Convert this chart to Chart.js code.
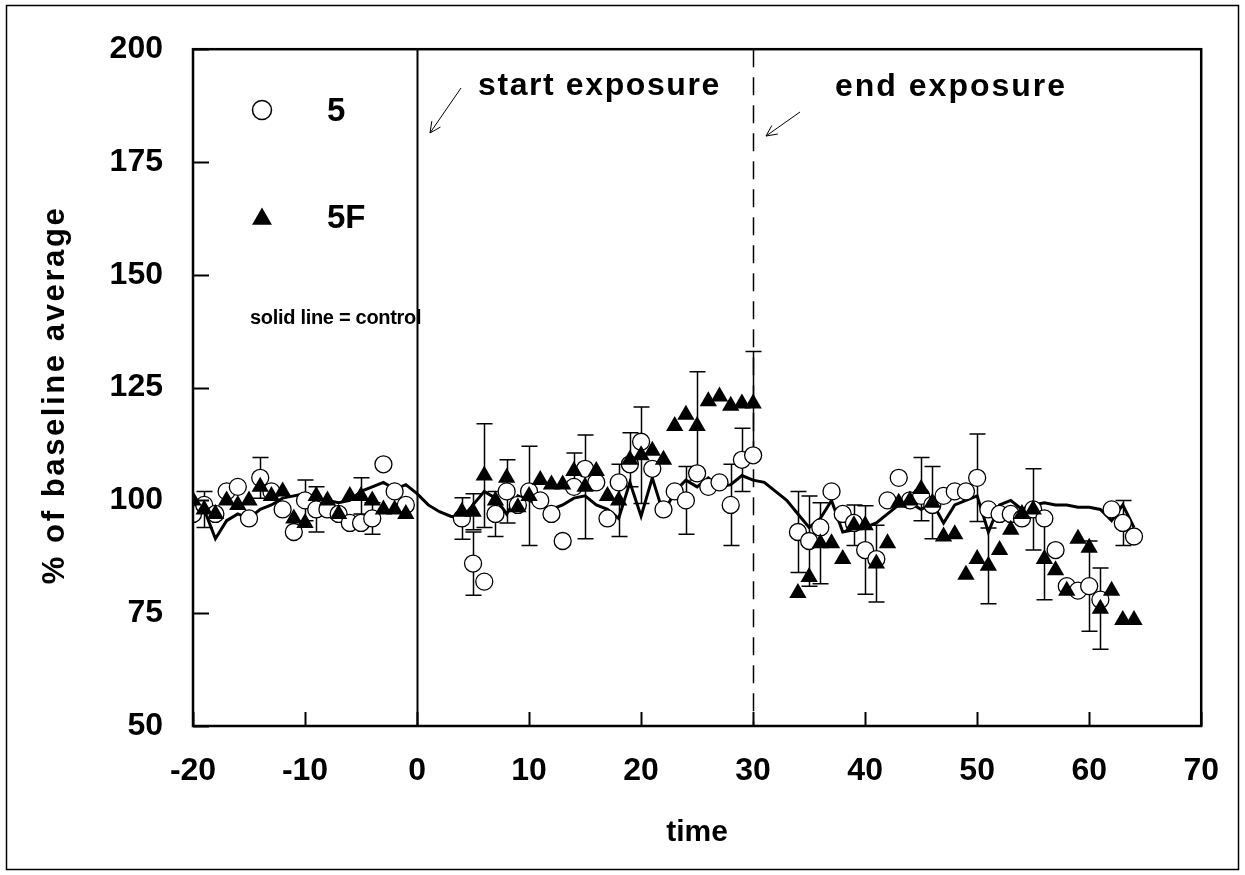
<!DOCTYPE html>
<html>
<head>
<meta charset="utf-8">
<script src="https://cdn.jsdelivr.net/npm/chart.js@4.4.0/dist/chart.umd.min.js"></script>
<style>
  html, body { margin: 0; padding: 0; background: #fff; }
  #wrap { width: 1245px; height: 875px; }
</style>
</head>
<body>
<div id="wrap"><canvas id="chart" width="1245" height="875"></canvas></div>
<script>
// time axis (min) for the two exposed groups: baseline, exposure, recovery
const times5 = [-20, -19, -18, -17, -16, -15, -14, -13, -12, -11, -10, -9, -8, -7, -6, -5, -4, -3, -2, -1,
    4, 5, 6, 7, 8, 9, 10, 11, 12, 13, 14, 15, 16, 17, 18, 19, 20, 21, 22, 23, 24, 25, 26, 27, 28, 29, 30,
    34, 35, 36, 37, 38, 39, 40, 41, 42, 43, 44, 45, 46, 47, 48, 49, 50, 51, 52, 53, 54, 55, 56, 57, 58, 59, 60, 61, 62, 63, 64];
const times5F = times5;

// "5" (open circles), % of baseline average
const values5 = [97, 99, 97, 102, 103, 96, 105, 102, 98, 93, 100, 98, 98, 97, 95, 95, 96, 108, 102, 99,
    96, 86, 82, 97, 102, 99, 102, 100, 97, 91, 103, 107, 104, 96, 104, 108, 113, 107, 98, 102, 100, 106, 103, 104, 99, 109, 110,
    93, 91, 94, 102, 97, 95, 89, 87, 100, 105, 100, 101, 99, 101, 102, 102, 105, 98, 97, 97, 96, 98, 96, 89, 81, 80, 81, 78, 98, 95, 92];

// "5F" (filled triangles)
const values5F = [100, 98, 97, 100, 99, 100, 103, 101, 102, 96, 95, 101, 100, 97, 101, 101, 100, 98, 98, 97,
    97.5, 97.5, 105.5, 100, 105, 98.5, 101, 104.5, 103.5, 103.5, 106.5, 103, 106.5, 101, 100, 109, 110, 111, 109, 116.5, 119, 116.5, 122, 123, 121, 121.5, 121.5,
    79.5, 83, 90.5, 90.5, 87, 94.5, 94.5, 86, 90.5, 99.5, 100, 102.5, 99.5, 92, 92.5, 83.5, 87, 85.5, 89, 93.5, 97, 98, 87, 84.5, 80, 91.5, 89.5, 76, 80, 73.5, 73.5];

// control (solid line)
const controlTimes = [-20, -19, -18, -17, -16, -15, -14, -13, -12, -11, -10, -9, -8, -7, -6, -5, -4, -3, -2, -1,
    0, 1, 2, 3, 4, 5, 6, 7, 8, 9, 10, 11, 12, 13, 14, 15, 16, 17, 18, 19, 20, 21, 22, 23, 24, 25, 26, 27, 28, 29, 30,
    31, 32, 33, 34, 35, 36, 37, 38, 39, 40, 41, 42, 43, 44, 45, 46, 47, 48, 49, 50, 51, 52, 53, 54, 55, 56, 57, 58, 59, 60, 61, 62, 63, 64];
const controlValues = [100, 98, 91.5, 95.5, 97, 96, 98, 99, 100.5, 101, 101.5, 100.5, 100, 99.5, 100, 102, 103, 104, 102.5, 103.5,
    101.5, 99, 97.5, 96.5, 96, 99, 102, 100.5, 97, 101, 100, 99, 98, 99, 100.5, 101, 99, 98, 96, 104, 96.5, 105, 97, 102, 104.5, 103, 105, 103, 103.5, 105.5, 104.5,
    104, 102, 100, 97, 94, 96, 100, 93, 93.5, 94, 95, 97, 99, 99.5, 98, 99.5, 95, 99, 100, 101, 93, 99, 100, 98, 99, 99.5, 99, 99, 98.5, 98.5, 98, 95.5, 99, 94];

// error bars (time of the point, half length)
const err5Times = [-14, -10, -9, -4, 4, 5, 7, 8, 24, 28, 29, 34, 35, 40, 50, 60, 63];
const err5Sizes = [4.5, 4.5, 5, 3.5, 4.6, 7, 5, 7, 7.5, 9, 7, 9, 10, 9.8, 9.7, 10, 5];
const err5FTimes = [-19, -5, 5, 6, 10, 14, 15, 18, 19, 20, 25, 30, 36, 39, 41, 45, 46, 51, 55, 56, 61];
const err5FSizes = [4, 4, 4, 11.5, 11, 4, 11.5, 8, 6, 10.7, 12, 11.5, 9, 4.5, 8.5, 7, 8, 8.4, 9, 9, 9];

const xMin = -20, xMax = 70, xStep = 10;
const yMin = 50, yMax = 200, yStep = 25;

const FONT = '"Liberation Sans", Arial, Helvetica, sans-serif';

function toPoints(xs, ys) {
    return xs.map((x, i) => ({ x: x, y: ys[i] }));
}

const decor = {
    id: 'decor',
    beforeDraw(chart) {
        const ctx = chart.ctx;
        ctx.save();
        ctx.fillStyle = '#fff';
        ctx.fillRect(0, 0, chart.width, chart.height);
        ctx.strokeStyle = '#000';
        ctx.lineWidth = 1.5;
        ctx.strokeRect(6.5, 5.5, 1232, 864);
        ctx.restore();
    },
    beforeDatasetsDraw(chart) {
        const ctx = chart.ctx;
        const xs = chart.scales.x, ys = chart.scales.y;
        const area = chart.chartArea;
        ctx.save();
        // exposure markers
        ctx.strokeStyle = '#000';
        ctx.lineWidth = 2;
        const x0 = Math.round(xs.getPixelForValue(0)) + 0.5;
        ctx.beginPath();
        ctx.moveTo(x0, area.top);
        ctx.lineTo(x0, area.bottom);
        ctx.stroke();
        ctx.lineWidth = 1.5;
        ctx.setLineDash([18, 10]);
        const x30 = Math.round(xs.getPixelForValue(30)) + 0.5;
        ctx.beginPath();
        ctx.moveTo(x30, area.top);
        ctx.lineTo(x30, area.bottom);
        ctx.stroke();
        ctx.setLineDash([]);

        // error bars
        const drawBars = (times, sizes, ptTimes, ptValues) => {
            ctx.lineWidth = 1.5;
            times.forEach((t, i) => {
                const v = ptValues[ptTimes.indexOf(t)];
                const px = Math.round(xs.getPixelForValue(t)) + 0.5;
                const top = ys.getPixelForValue(v + sizes[i]);
                const bot = ys.getPixelForValue(v - sizes[i]);
                ctx.beginPath();
                ctx.moveTo(px, top); ctx.lineTo(px, bot);
                ctx.moveTo(px - 8, top); ctx.lineTo(px + 8, top);
                ctx.moveTo(px - 8, bot); ctx.lineTo(px + 8, bot);
                ctx.stroke();
            });
        };
        drawBars(err5Times, err5Sizes, times5, values5);
        drawBars(err5FTimes, err5FSizes, times5F, values5F);
        ctx.restore();
    },
    afterDatasetsDraw(chart) {
        const ctx = chart.ctx;
        const xs = chart.scales.x, ys = chart.scales.y;
        const area = chart.chartArea;
        ctx.save();
        ctx.strokeStyle = '#000';
        ctx.fillStyle = '#000';

        // plot frame and inward ticks
        ctx.lineWidth = 2.5;
        ctx.strokeRect(area.left, area.top, area.right - area.left, area.bottom - area.top);
        ctx.lineWidth = 2;
        ctx.beginPath();
        ys.ticks.forEach(t => {
            const py = Math.round(ys.getPixelForValue(t.value)) + 0.5;
            ctx.moveTo(area.left, py); ctx.lineTo(area.left + 16, py);
        });
        xs.ticks.forEach(t => {
            const px = Math.round(xs.getPixelForValue(t.value)) + 0.5;
            ctx.moveTo(px, area.bottom); ctx.lineTo(px, area.bottom - 14);
        });
        ctx.stroke();

        // y axis title
        ctx.save();
        ctx.translate(55, 395);
        ctx.rotate(-Math.PI / 2);
        ctx.font = 'bold 31px ' + FONT;
        ctx.letterSpacing = '2.6px';
        ctx.textAlign = 'center';
        ctx.textBaseline = 'middle';
        ctx.fillText('% of baseline average', 0, 0);
        ctx.restore();

        // annotations
        ctx.save();
        ctx.textAlign = 'left';
        ctx.textBaseline = 'middle';
        ctx.font = 'bold 32px ' + FONT;
        ctx.letterSpacing = '1.6px';
        ctx.fillText('start exposure', 478, 86);
        ctx.letterSpacing = '2px';
        ctx.fillText('end exposure', 835, 87);
        ctx.restore();

        const arrow = (x1, y1, x2, y2) => {
            const a = Math.atan2(y2 - y1, x2 - x1);
            ctx.lineWidth = 1;
            ctx.beginPath();
            ctx.moveTo(x1, y1); ctx.lineTo(x2, y2);
            ctx.moveTo(x2, y2); ctx.lineTo(x2 - 12 * Math.cos(a - 0.45), y2 - 12 * Math.sin(a - 0.45));
            ctx.moveTo(x2, y2); ctx.lineTo(x2 - 12 * Math.cos(a + 0.45), y2 - 12 * Math.sin(a + 0.45));
            ctx.stroke();
        };
        arrow(461, 88, 430, 133);
        arrow(800, 112, 766, 136);

        // legend
        ctx.fillStyle = '#fff';
        ctx.lineWidth = 1.5;
        Chart.helpers.drawPoint(ctx, { pointStyle: 'circle', radius: 9.5, borderWidth: 1.5, rotation: 0 }, 262, 110);
        ctx.fillStyle = '#000';
        Chart.helpers.drawPoint(ctx, { pointStyle: 'triangle', radius: 11.5, borderWidth: 0, rotation: 0 }, 262, 219);
        ctx.textAlign = 'left';
        ctx.textBaseline = 'middle';
        ctx.font = 'bold 33px ' + FONT;
        ctx.fillText('5', 327, 112);
        ctx.fillText('5F', 327, 219);
        ctx.font = 'bold 20px ' + FONT;
        ctx.letterSpacing = '-0.3px';
        ctx.fillText('solid line = control', 250, 318);
        ctx.restore();
    }
};

new Chart(document.getElementById('chart').getContext('2d'), {
    type: 'scatter',
    data: {
        datasets: [
            {
                label: '5F',
                data: toPoints(times5F, values5F),
                pointStyle: 'triangle',
                pointRadius: 10,
                backgroundColor: '#000',
                borderColor: '#000',
                borderWidth: 0,
                showLine: false
            },
            {
                label: '5',
                data: toPoints(times5, values5),
                pointStyle: 'circle',
                pointRadius: 8.5,
                backgroundColor: '#fff',
                borderColor: '#000',
                borderWidth: 1.3,
                showLine: false
            },
            {
                label: 'control',
                data: toPoints(controlTimes, controlValues),
                showLine: true,
                pointRadius: 0,
                borderColor: '#000',
                borderWidth: 3,
                tension: 0
            }
        ]
    },
    options: {
        responsive: false,
        animation: false,
        layout: { padding: { top: 39, right: 40, left: 0, bottom: 0 } },
        plugins: {
            legend: { display: false },
            tooltip: { enabled: false }
        },
        scales: {
            x: {
                type: 'linear',
                min: xMin,
                max: xMax,
                afterFit: s => { s.height = 149; },
                ticks: {
                    stepSize: xStep,
                    padding: 26,
                    color: '#000',
                    font: { family: FONT, size: 32, weight: 'bold' }
                },
                grid: { display: false, drawTicks: false },
                border: { display: false },
                title: {
                    display: true,
                    text: 'time',
                    color: '#000',
                    padding: { top: 0, bottom: 24 },
                    font: { family: FONT, size: 30, weight: 'bold' }
                }
            },
            y: {
                min: yMin,
                max: yMax,
                afterFit: s => { s.width = 193; },
                ticks: {
                    stepSize: yStep,
                    padding: 30,
                    color: '#000',
                    font: { family: FONT, size: 32, weight: 'bold' }
                },
                grid: { display: false, drawTicks: false },
                border: { display: false }
            }
        }
    },
    plugins: [decor]
});
</script>
</body>
</html>
